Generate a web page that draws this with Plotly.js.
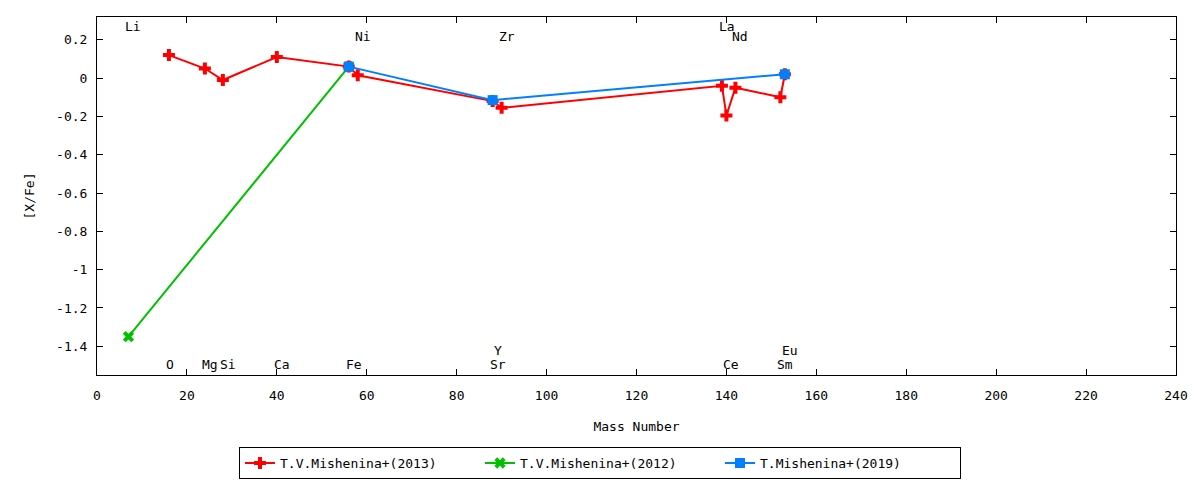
<!DOCTYPE html>
<html>
<head>
<meta charset="utf-8">
<script src="https://cdn.plot.ly/plotly-3.0.1.min.js"></script>
<style>html,body{margin:0;padding:0;background:#fff;}#chart{width:1200px;height:480px;}</style>
</head>
<body>
<div id="chart"></div>
<script>
// Series: T.V.Mishenina+(2013)
const mass2013 = [16, 24, 28, 40, 56, 58, 88, 90, 139, 140, 142, 152, 153];
const xfe2013  = [0.12, 0.05, -0.01, 0.11, 0.06, 0.015, -0.12, -0.155, -0.04, -0.195, -0.05, -0.10, 0.02];
// Series: T.V.Mishenina+(2012)
const mass2012 = [7, 56];
const xfe2012  = [-1.35, 0.06];
// Series: T.Mishenina+(2019)
const mass2019 = [56, 88, 153];
const xfe2019  = [0.06, -0.115, 0.02];

// Element labels
const elemNames = ["Li", "Ni", "Zr", "La", "Nd", "O", "Mg", "Si", "Ca", "Fe", "Sr", "Ce", "Sm", "Y", "Eu"];
const elemMass  = [7, 58, 90, 139, 142, 16, 24, 28, 40, 56, 88, 140, 152, 89, 153];
const elemY     = [0.27, 0.22, 0.22, 0.27, 0.22, -1.49, -1.49, -1.49, -1.49, -1.49, -1.49, -1.49, -1.49, -1.42, -1.42];

// Tick labels
const xTicks = [0, 20, 40, 60, 80, 100, 120, 140, 160, 180, 200, 220, 240];
const yTicks = [0.2, 0, -0.2, -0.4, -0.6, -0.8, -1, -1.2, -1.4];
const yTickText = ["0.2", "0", "-0.2", "-0.4", "-0.6", "-0.8", "-1", "-1.2", "-1.4"];

const FONT = "DejaVu Sans Mono";

const traces = [
  {
    x: mass2013, y: xfe2013, name: "T.V.Mishenina+(2013)", type: "scatter", mode: "lines+markers",
    line: {color: "#ff0000", width: 2},
    marker: {symbol: "cross", size: 10, color: "#ff0000"}
  },
  {
    x: mass2012, y: xfe2012, name: "T.V.Mishenina+(2012)", type: "scatter", mode: "lines+markers",
    line: {color: "#00c000", width: 2},
    marker: {symbol: "x", size: 10, color: "#00c000"}
  },
  {
    x: mass2019, y: xfe2019, name: "T.Mishenina+(2019)", type: "scatter", mode: "lines+markers",
    line: {color: "#0080ff", width: 2},
    marker: {symbol: "square", size: 10, color: "#0080ff"}
  }
];

const annotations = elemNames.map((t, i) => ({
  x: elemMass[i], y: elemY[i], xref: "x", yref: "y", text: t, showarrow: false,
  xanchor: "left", yanchor: "middle", xshift: -4, borderpad: 0, height: 16,
  font: {family: FONT, size: 13, color: "#000"}
}));

const layout = {
  width: 1200, height: 480,
  margin: {l: 97, r: 24, t: 17, b: 105},
  paper_bgcolor: "#fff", plot_bgcolor: "#fff",
  font: {family: FONT, size: 13, color: "#000"},
  showlegend: true,
  xaxis: {
    range: [0, 240], tickvals: xTicks, ticks: "inside", ticklen: 6, tickcolor: "#000",
    showline: true, linecolor: "#000", linewidth: 1, mirror: "ticks", showgrid: false, zeroline: false,
    ticklabelstandoff: 8,
    title: {text: "Mass Number", font: {family: FONT, size: 13}, standoff: 20},
    tickfont: {family: FONT, size: 13}
  },
  yaxis: {
    range: [-1.55, 0.319], tickvals: yTicks, ticktext: yTickText, ticks: "inside", ticklen: 6, tickcolor: "#000",
    showline: true, linecolor: "#000", linewidth: 1, mirror: "ticks", showgrid: false, zeroline: false,
    ticklabelstandoff: 6,
    title: {text: "[X/Fe]", font: {family: FONT, size: 13}, standoff: 18},
    tickfont: {family: FONT, size: 13}
  },
  legend: {
    orientation: "h", x: 0.5, xanchor: "center", xref: "container",
    y: 0.002, yanchor: "bottom", yref: "container",
    bordercolor: "#000", borderwidth: 1, bgcolor: "#fff",
    font: {family: FONT, size: 13}, entrywidth: 195, tracegroupgap: 0
  },
  annotations: annotations
};

Plotly.newPlot("chart", traces, layout, {displayModeBar: false, staticPlot: true});
</script>
</body>
</html>
